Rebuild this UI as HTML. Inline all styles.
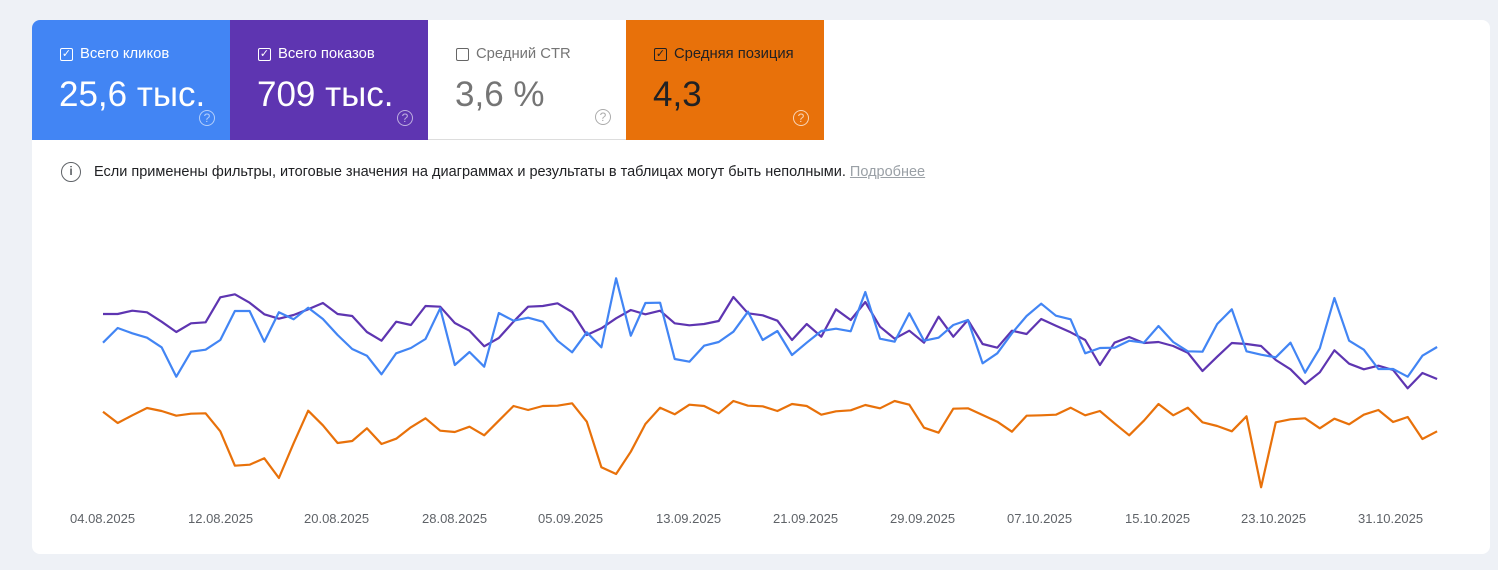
<!DOCTYPE html>
<html><head><meta charset="utf-8"><style>
body{margin:0;width:1498px;height:570px;background:#eef1f6;font-family:"Liberation Sans",sans-serif;overflow:hidden;position:relative}
.card{position:absolute;left:32px;top:20px;width:1458px;height:534px;background:#fff;border-radius:8px;overflow:hidden}
.tile{position:absolute;top:0;width:198px;height:120px;box-sizing:border-box;padding-left:28px}
.lbl{position:absolute;top:26px;left:28px;font-size:14.8px;display:flex;align-items:center}
.cb{width:11px;height:11px;border:1.5px solid currentColor;border-radius:2px;margin-right:7px;position:relative;font-size:11px;line-height:11px;text-align:center}
.val{position:absolute;top:55px;left:27px;font-size:35px}
.q{position:absolute;right:15px;bottom:14px;width:14px;height:14px;border:1.5px solid currentColor;border-radius:50%;font-size:12px;line-height:14px;text-align:center;opacity:.6}
.ax{position:absolute;top:491px;font-size:13px;color:#5f6368}
</style></head><body>
<div class="card">
<div class="tile" style="left:0;background:#4285f4;color:#fff"><div class="lbl"><span class="cb">✓</span>Всего кликов</div><div class="val">25,6 тыс.</div><div class="q">?</div></div>
<div class="tile" style="left:198px;background:#5e35b1;color:#fff"><div class="lbl"><span class="cb">✓</span>Всего показов</div><div class="val">709 тыс.</div><div class="q">?</div></div>
<div class="tile" style="left:396px;background:#fff;color:#757575;border-bottom:1px solid #ddd"><div class="lbl"><span class="cb" style="color:#666"></span>Средний CTR</div><div class="val">3,6 %</div><div class="q">?</div></div>
<div class="tile" style="left:594px;background:#e8710a;color:#202124"><div class="lbl"><span class="cb">✓</span>Средняя позиция</div><div class="val">4,3</div><div class="q" style="color:#fff;opacity:.7">?</div></div>
<div style="position:absolute;left:29px;top:142px;width:20px;height:20px;border:1.5px solid #5f6368;border-radius:50%;box-sizing:border-box;color:#5f6368;font-size:12px;line-height:17px;text-align:center;font-weight:bold">i</div>
<div style="position:absolute;left:62px;top:144px;font-size:14.5px;color:#202124;white-space:nowrap">Если применены фильтры, итоговые значения на диаграммах и результаты в таблицах могут быть неполными. <span style="color:#9aa0a6;text-decoration:underline">Подробнее</span></div>
<span class="ax" style="left:38px">04.08.2025</span><span class="ax" style="left:156px">12.08.2025</span><span class="ax" style="left:272px">20.08.2025</span><span class="ax" style="left:390px">28.08.2025</span><span class="ax" style="left:506px">05.09.2025</span><span class="ax" style="left:624px">13.09.2025</span><span class="ax" style="left:741px">21.09.2025</span><span class="ax" style="left:858px">29.09.2025</span><span class="ax" style="left:975px">07.10.2025</span><span class="ax" style="left:1093px">15.10.2025</span><span class="ax" style="left:1209px">23.10.2025</span><span class="ax" style="left:1326px">31.10.2025</span>
</div>
<svg id="s" width="1498" height="570" style="position:absolute;left:0;top:0"></svg>
<script>
var P=[314,314,310.7,312.3,321.7,332,323.3,322.3,297.3,294.3,302.7,314.3,318.7,315,309.3,303,314,316,332,340.7,321.7,325,306,306.7,323,330.7,346.3,338,321.7,306.7,306,303.3,312,335,328.3,318.3,310,314.3,310.7,323.3,325.3,324,321,297,313.3,315.3,320.7,340,324,336.7,309.3,320,302,326.7,338.7,330.7,342.7,316.7,336.7,320,344,347.7,330.7,334,319,325.7,332.3,340,365,342.7,337,343,342,346,352.7,371,356.7,343,344,346,360,369.3,384,372.3,350.3,363.7,369.3,365.7,370,388.3,373,379];
var B=[342.7,328,333.3,337.7,347.3,376.7,351.7,349.7,340,311,311,341.7,312.3,319.3,307.7,319,335,349,355.7,374.3,353.3,348,339,308.3,365,352,366.7,313,320.7,317.7,321.7,340.7,352.3,332.3,347.3,278.3,335.7,303,302.7,359,361.7,345.7,342,331.7,311.7,340,331,355,342.7,331,328.7,331.3,292,338.7,341.7,313.3,340.7,337.7,325,320,363.3,353.3,333.3,316,303.7,315.7,319.3,353.3,348,347.7,340.7,342.7,326,342,351.3,351.7,324,309.3,351.3,354.7,357.3,342.7,372.7,348.3,298,340.7,349.7,369,369,376.7,355.7,347];
var O=[411.7,423,415.3,408,411,415.7,413.7,413.3,431.3,465.7,464.7,458.3,478,443.3,410.7,425.3,443,441,428.3,444,438.7,427.3,418.3,430.7,432,426.7,435.3,420.7,406,410,406,405.7,403.3,421.7,467.3,474,451.7,424,407.7,414.3,404.7,406,413.3,401,405.7,406.3,411,404,406,414.7,411.3,410.3,405,408.3,401,404.7,427.7,432.7,408.7,408.3,415,421.7,431.7,415.7,415.3,414.7,407.7,415.3,411,423.3,435.3,420.7,404,415.3,407.7,422.3,426,431.3,416.3,487.3,422.3,419.3,418.3,428.3,418.7,424.3,414.7,410,422,417,439,431.3];
var s='';
[[O,'#e8710a'],[P,'#5e35b1'],[B,'#4285f4']].forEach(function(a){var d=a[0].map(function(y,i){return (103+i*14.66).toFixed(1)+','+y}).join(' ');s+='<polyline points="'+d+'" fill="none" stroke="'+a[1]+'" stroke-width="2.2" stroke-linejoin="round"/>';});
document.getElementById('s').innerHTML=s;
</script>
</body></html>
